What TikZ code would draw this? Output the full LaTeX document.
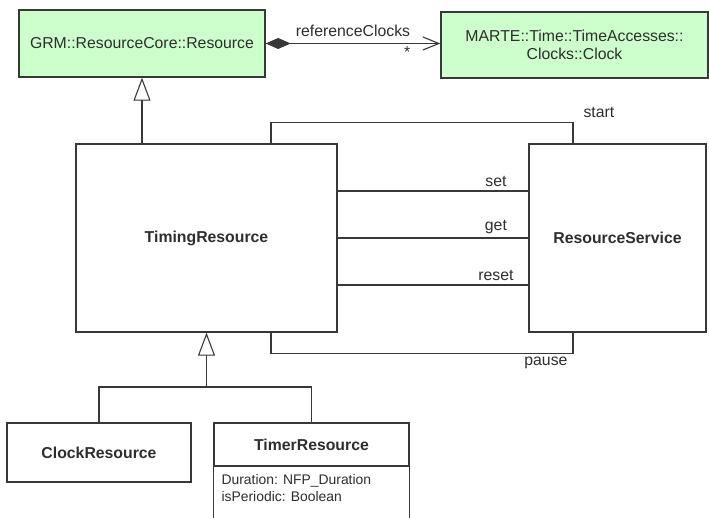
\documentclass[tikz,border=0pt]{standalone}
\usepackage{fontspec}
\setmainfont{Liberation Sans}
\usetikzlibrary{calc, positioning, arrows.meta}

\definecolor{umlgreen}{HTML}{CCFFCC}
\definecolor{umlline}{HTML}{383838}
\definecolor{umltext}{HTML}{2E2E2E}

\begin{document}
\begin{tikzpicture}[
    x=1pt, y=-1pt,
    every node/.style={text=umltext},
    classbox/.style={
        rectangle,
        draw=umlline,
        line width=1.3pt,
        inner sep=0pt,
        font=\fontsize{15.8}{18}\selectfont\bfseries,
        align=center
    },
    greenbox/.style={
        classbox,
        fill=umlgreen,
        font=\fontsize{15.8}{17.5}\selectfont
    },
    lbl/.style={font=\fontsize{15.8}{18}\selectfont, inner sep=2pt},
    conn/.style={draw=umlline, line width=1.1pt},
    genarr/.style={conn, -{Triangle[open, length=23pt, width=17pt]}},
    compose/.style={conn, {Diamond[length=25pt, width=11pt]}-{Straight Barb[length=16pt, width=13pt]}}
]
\useasboundingbox (0,0) rectangle (709,518);

% Resource and clock
\node[greenbox, minimum width=246pt, minimum height=67pt] (res) at (142,43.5)
{GRM::ResourceCore::Resource};
\node[greenbox, minimum width=267pt, minimum height=66pt] (clk) at (574.5,45)
{MARTE::Time::TimeAccesses::\\Clocks::Clock};

% Main classes
\node[classbox, minimum width=261pt, minimum height=188pt] (timing) at (206.5,238) {TimingResource};
\node[classbox, minimum width=177pt, minimum height=188pt] (svc) at (617.5,238) {ResourceService};

% Subclasses
\node[classbox, minimum width=184pt, minimum height=59pt] (clockres) at (99,452.5) {ClockResource};
\node[classbox, minimum width=195pt, minimum height=43pt] (timer) at (311.5,444.5) {TimerResource};
\draw[umlline, line width=1.3pt] (timer.south west) -- ++(0,70);
\draw[umlline, line width=1.3pt] (timer.south east) -- ++(0,70);
\node[anchor=north west, align=left, inner sep=0pt, font=\fontsize{13.9}{17}\selectfont]
    (timerattr) at ([shift={(8,8)}]timer.south west)
{Duration: NFP\_Duration\\isPeriodic: Boolean};

% Association to clock
\draw[compose] (res.east) -- node[lbl, above=4pt] (lblref) {referenceClocks}
    node[lbl, pos=0.81, below=1pt] (lblmult) {*} (res.east -| clk.west);

% Generalization to Resource
\draw[genarr] (timing.north -| res.south) -- (res.south);

% Services
\draw[conn] ([xshift=64.5pt]timing.north) -- ++(0,-21)
    -| node[lbl, pos=0.5, above right=2pt and 8pt] (lblstart) {start} ([xshift=-44.5pt]svc.north);
\draw[conn] (timing.east |- 0,191) -- node[lbl, pos=0.83, above=2pt] (lblset) {set} (svc.west |- 0,191);
\draw[conn] (timing.east |- 0,238) -- node[lbl, pos=0.83, above=2pt] (lblget) {get} (svc.west |- 0,238);
\draw[conn] (timing.east |- 0,285) -- node[lbl, pos=0.83, above=2pt] (lblreset) {reset} (svc.west |- 0,285);
\draw[conn] ([xshift=64.5pt]timing.south) -- ++(0,21)
    -| node[lbl, pos=0.5, below left=1pt and 3pt] (lblpause) {pause} ([xshift=-44.5pt]svc.south);

% Generalization to subclasses
\coordinate (genjoin) at (206.5,387);
\draw[conn] (clockres.north) |- (genjoin) -| (timer.north);
\draw[genarr] (genjoin) -- (timing.south);
\end{tikzpicture}
\end{document}
